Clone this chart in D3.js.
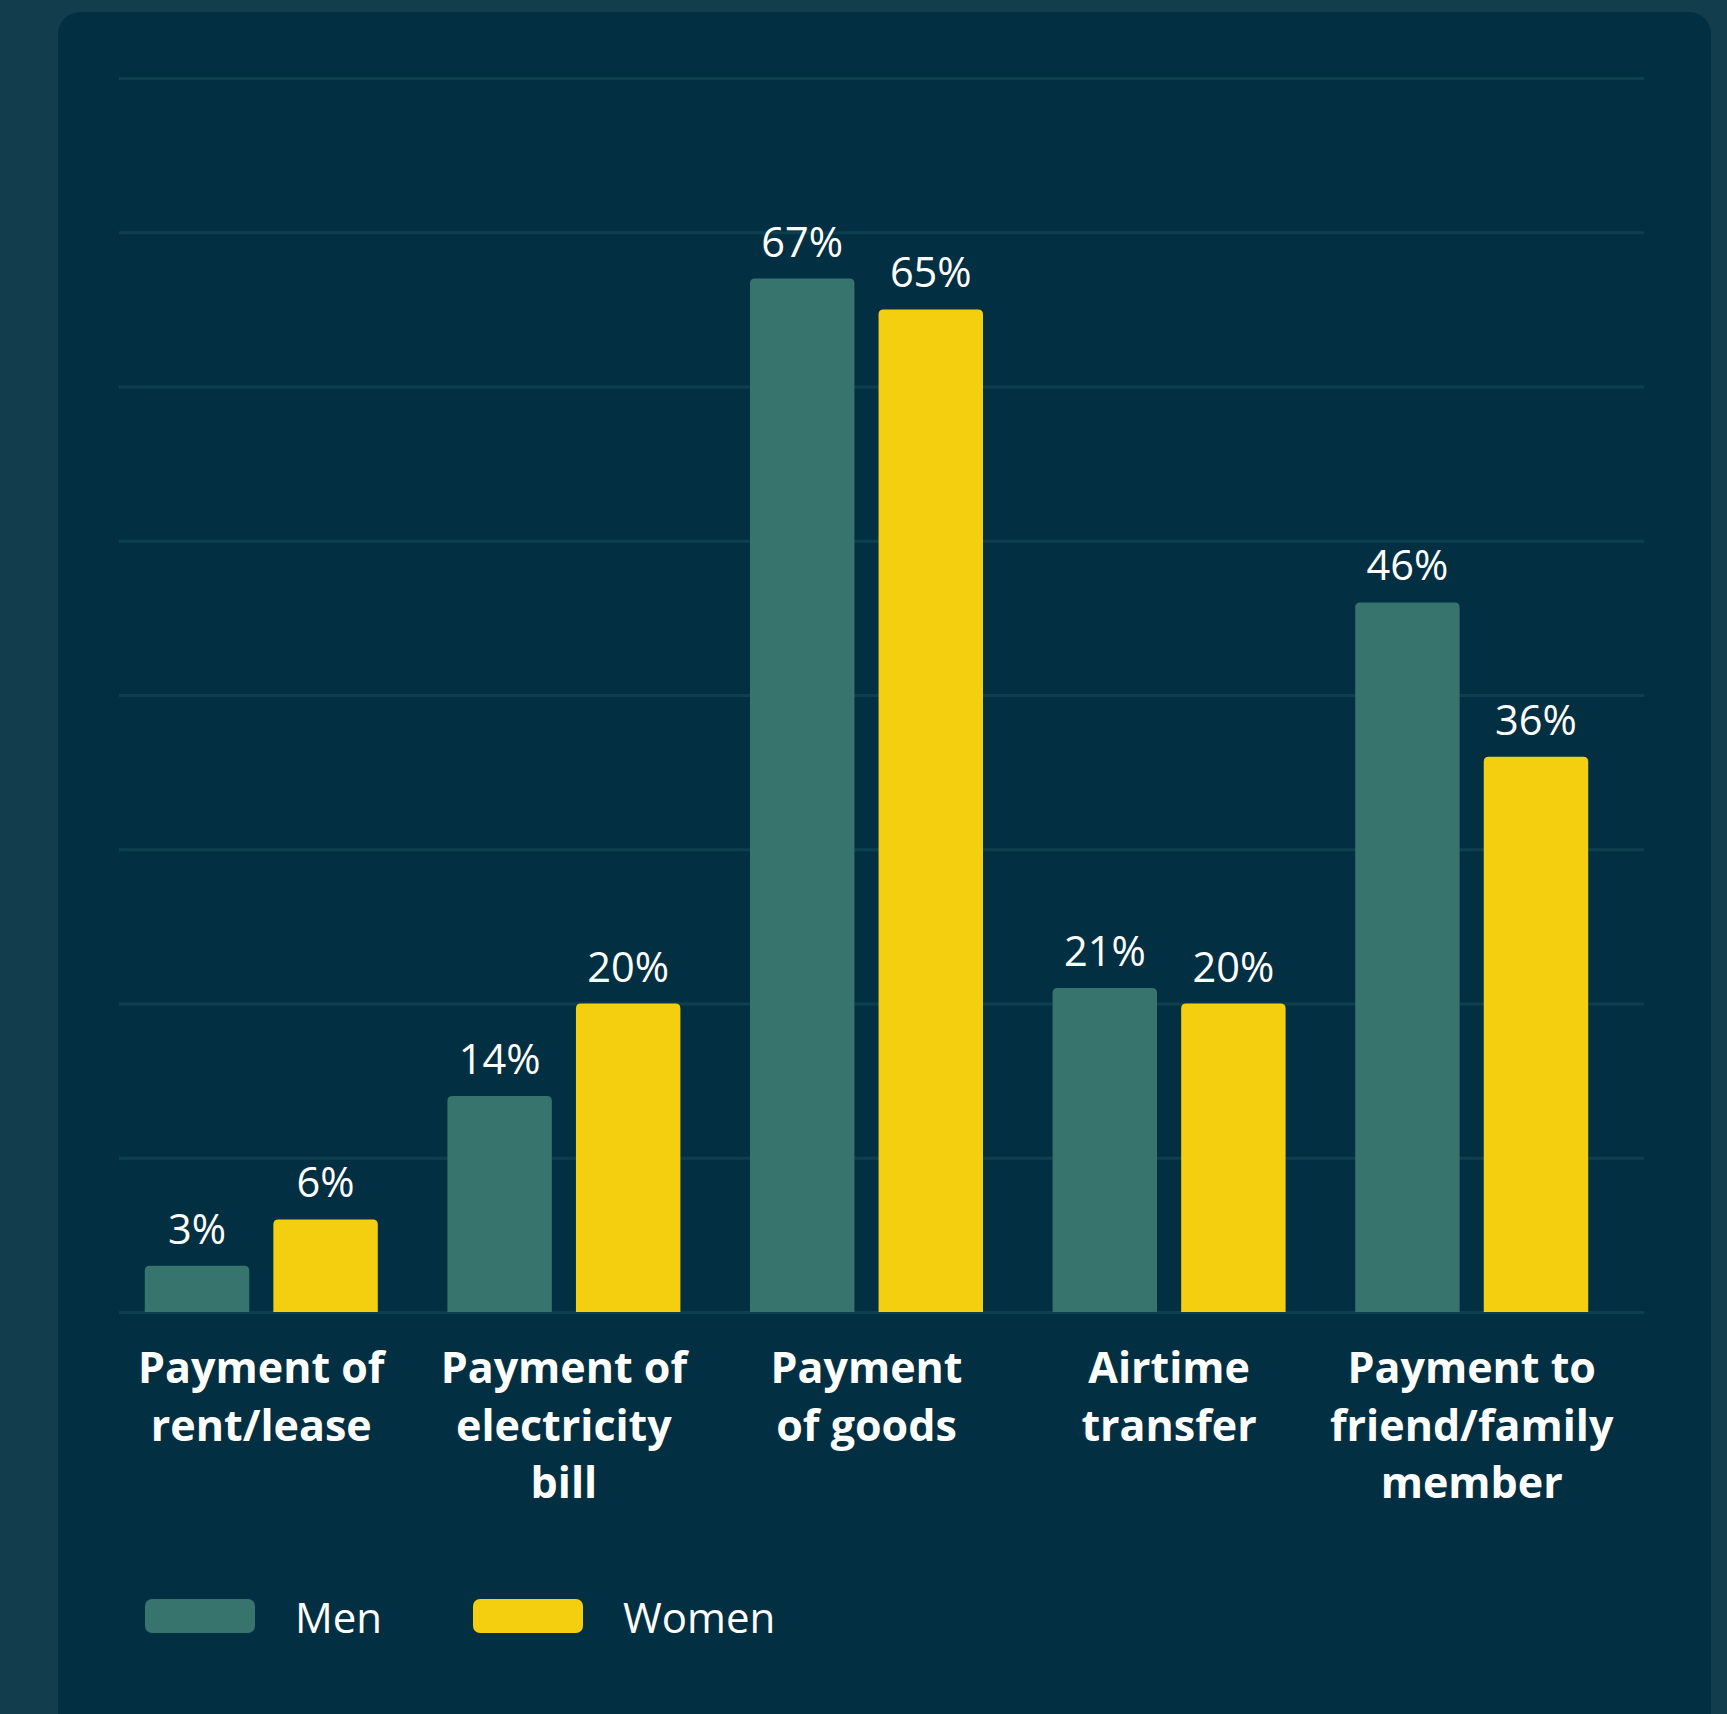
<!DOCTYPE html>
<html lang="en">
<head>
<meta charset="UTF-8">
<title>Payments by gender</title>
<style>
    body { margin: 0; background: #123d4d; }
    .value { font-family: "Open Sans", sans-serif; font-size: 41.5px; fill: #ffffff; }
    .cat { font-family: "Open Sans", sans-serif; font-size: 43px; font-weight: bold; fill: #ffffff; }
    .legend-text { font-family: "Open Sans", sans-serif; font-size: 42px; fill: #ffffff; }
</style>
</head>
<body>
<script src="https://d3js.org/d3.v7.min.js"></script>
<script>
    var categories = ["Payment of\nrent/lease", "Payment of\nelectricity\nbill", "Payment\nof goods",
        "Airtime\ntransfer", "Payment to\nfriend/family\nmember"];
    var series = ["Men", "Women"];
    var menValues = [3, 14, 67, 21, 46];
    var womenValues = [6, 20, 65, 20, 36];
    var gridTicks = [0, 10, 20, 30, 40, 50, 60, 70, 80];

    var colors = {Men: "#36746d", Women: "#f4cf10"};
    var width = 1727, height = 1714;

    var svg = d3.select("body").append("svg")
        .attr("width", width)
        .attr("height", height);

    // outer background + panel
    svg.append("rect").attr("width", width).attr("height", height).attr("fill", "#123d4d");
    svg.append("rect")
        .attr("x", 58).attr("y", 12)
        .attr("width", 1653).attr("height", height + 40)
        .attr("rx", 22)
        .attr("fill", "#023042");

    var x0 = d3.scaleBand()
        .domain(categories)
        .range([110, 1623])
        .paddingInner(0.23)
        .paddingOuter(0.115);

    var x1 = d3.scaleBand()
        .domain(series)
        .range([0, x0.bandwidth()])
        .paddingInner(0.1875);

    var y = d3.scaleLinear()
        .domain([0, 80])
        .range([1312, 78]);

    /* gridlines */
    var grid = svg.append("g")
        .attr("transform", "translate(119,0)")
        .call(d3.axisLeft(y).tickValues(gridTicks).tickSize(-1525).tickFormat(""));
    grid.select(".domain").remove();
    grid.selectAll(".tick line")
        .attr("stroke", "#0e3f4f")
        .attr("stroke-width", 3);

    var rows = categories.map(function (c, i) {
        return {cat: c, values: [
            {key: "Men", value: menValues[i]},
            {key: "Women", value: womenValues[i]}
        ]};
    });

    // bar with rounded top corners
    function barPath(x, top, w, bottom, r) {
        r = Math.min(r, bottom - top);
        return "M" + x + "," + bottom +
            "V" + (top + r) +
            "Q" + x + "," + top + " " + (x + r) + "," + top +
            "H" + (x + w - r) +
            "Q" + (x + w) + "," + top + " " + (x + w) + "," + (top + r) +
            "V" + bottom + "Z";
    }

    var groups = svg.selectAll(".group")
        .data(rows)
        .enter()
        .append("g")
        .attr("class", "group")
        .attr("transform", function (d) { return "translate(" + x0(d.cat) + ",0)"; });

    groups.selectAll("path")
        .data(function (d) { return d.values; })
        .enter()
        .append("path")
        .attr("d", function (d) {
            return barPath(x1(d.key), y(d.value), x1.bandwidth(), y(0), 5);
        })
        .attr("fill", function (d) { return colors[d.key]; });

    groups.selectAll(".value")
        .data(function (d) { return d.values; })
        .enter()
        .append("text")
        .attr("class", "value")
        .attr("x", function (d) { return x1(d.key) + x1.bandwidth() / 2; })
        .attr("y", function (d) { return y(d.value) - 22; })
        .attr("text-anchor", "middle")
        .text(function (d) { return d.value + "%"; });

    /* category labels */
    var labels = svg.selectAll(".cat")
        .data(categories)
        .enter()
        .append("text")
        .attr("class", "cat")
        .attr("text-anchor", "middle")
        .attr("x", function (d) { return x0(d) + x0.bandwidth() / 2; })
        .attr("y", 1383);
    labels.selectAll("tspan")
        .data(function (d) { return d.split("\n"); })
        .enter()
        .append("tspan")
        .attr("x", function () { return this.parentNode.getAttribute("x"); })
        .attr("dy", function (d, i) { return i === 0 ? 0 : 57.5; })
        .text(function (d) { return d; });

    /* legend */
    var legend = svg.selectAll(".legend")
        .data(series)
        .enter()
        .append("g")
        .attr("class", "legend")
        .attr("transform", function (d, i) { return "translate(" + (145 + i * 328) + ",1599)"; });
    legend.append("rect")
        .attr("width", 110)
        .attr("height", 34)
        .attr("rx", 7)
        .attr("fill", function (d) { return colors[d]; });
    legend.append("text")
        .attr("class", "legend-text")
        .attr("x", 150)
        .attr("y", 34)
        .text(function (d) { return d; });
</script>
</body>
</html>
